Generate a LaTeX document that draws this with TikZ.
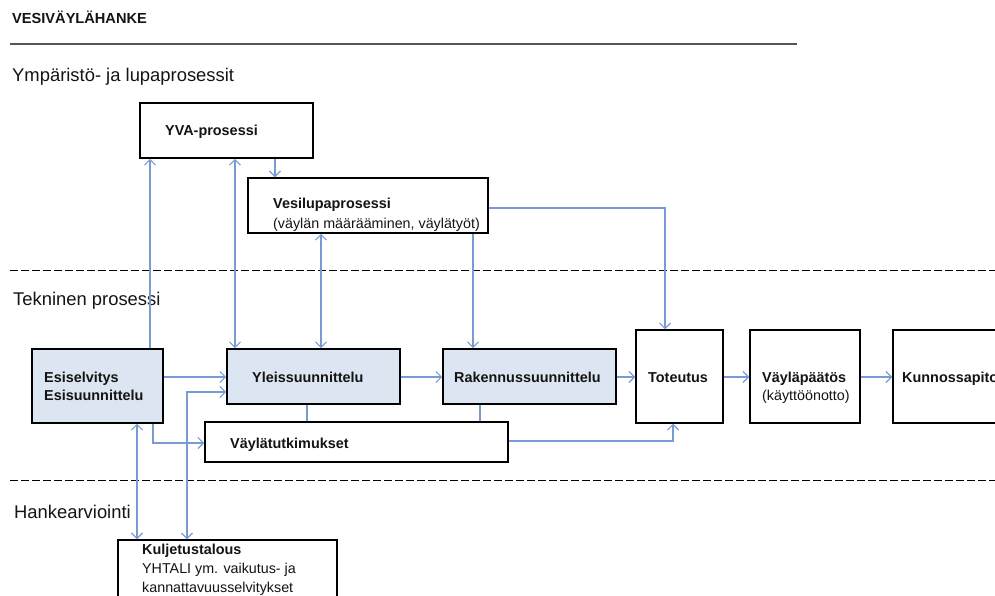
\documentclass[tikz,border=0pt]{standalone}
\usepackage{fontspec}
\setmainfont{Liberation Sans}
\usetikzlibrary{arrows.meta,fit}
\definecolor{conncol}{RGB}{122,155,210}
\definecolor{boxfill}{RGB}{220,230,242}
\definecolor{txtcol}{RGB}{20,20,20}
\tikzset{
  boxw/.style={draw=black,line width=1.5pt,fill=white,inner sep=0pt},
  boxb/.style={draw=black,line width=1.8pt,fill=boxfill,inner sep=0pt},
  conn/.style={draw=conncol,line width=1.1pt},
  tip/.tip={Straight Barb[length=5.5pt,width=11pt,line width=1.1pt]},
  btxt/.style={anchor=base west,inner sep=0pt,text=txtcol,font=\fontsize{14.4}{17}\selectfont\bfseries},
  rtxt/.style={anchor=base west,inner sep=0pt,text=txtcol,font=\fontsize{14.3}{17}\selectfont},
  sectxt/.style={anchor=base west,inner sep=0pt,text=txtcol,font=\fontsize{18.4}{21}\selectfont},
  sepline/.style={draw=black,line width=1pt,dash pattern=on 8pt off 3pt}
}
\begin{document}
\begin{tikzpicture}[x=1pt,y=-1pt]
\useasboundingbox (0,0) rectangle (995,595);
% header
\node[anchor=base west,inner sep=0pt,text=txtcol,font=\fontsize{14.6}{17}\selectfont\bfseries] (title) at (12,23) {VESIVÄYLÄHANKE};
\coordinate (hl1) at (10,44);
\coordinate (hl2) at (797,44);
\draw[draw={rgb,255:red,85;green,85;blue,85},line width=1.5pt] (hl1) -- (hl2);
% section labels
\node[sectxt] (s1) at (12,81) {Ympäristö- ja lupaprosessit};
\node[sectxt] (s2) at (13,305) {Tekninen prosessi};
\node[sectxt] (s3) at (14,518) {Hankearviointi};
% dashed separators
\coordinate (d1a) at (10,270); \coordinate (d1b) at (995,270);
\coordinate (d2a) at (10,480); \coordinate (d2b) at (995,480);
\draw[sepline] (d1a) -- (d1b);
\draw[sepline] (d2a) -- (d2b);
% corner coordinates
\coordinate (yvaA) at (140,103); \coordinate (yvaB) at (313,158);
\coordinate (vesiA) at (248,178); \coordinate (vesiB) at (488,233);
\coordinate (esisA) at (32,349); \coordinate (esisB) at (163,423);
\coordinate (yleisA) at (227,349); \coordinate (yleisB) at (400,404);
\coordinate (rakA) at (443,349); \coordinate (rakB) at (616,404);
\coordinate (totA) at (636,330); \coordinate (totB) at (723,423);
\coordinate (vpA) at (750,330); \coordinate (vpB) at (860,423);
\coordinate (kpA) at (893,330); \coordinate (kpB) at (1012,423);
\coordinate (vtA) at (205,422); \coordinate (vtB) at (508,462);
\coordinate (kuljA) at (118,540); \coordinate (kuljB) at (337,612);
% boxes
\node[boxw,fit=(yvaA)(yvaB)] (yva) {};
\node[boxw,fit=(vesiA)(vesiB)] (vesi) {};
\node[boxb,fit=(esisA)(esisB)] (esis) {};
\node[boxb,fit=(yleisA)(yleisB)] (yleis) {};
\node[boxb,fit=(rakA)(rakB)] (rak) {};
\node[boxw,fit=(totA)(totB)] (tot) {};
\node[boxw,fit=(vpA)(vpB)] (vp) {};
\node[boxw,fit=(kpA)(kpB)] (kp) {};
\node[boxw,fit=(vtA)(vtB)] (vt) {};
\node[boxw,fit=(kuljA)(kuljB)] (kulj) {};
% texts
\node[btxt] (tyva) at (165,135) {YVA-prosessi};
\node[btxt] (tvesi1) at (273,208) {Vesilupaprosessi};
\node[rtxt] (tvesi2) at (273,228) {(väylän määrääminen, väylätyöt)};
\node[btxt] (tesis1) at (44,382) {Esiselvitys};
\node[btxt] (tesis2) at (44,400) {Esisuunnittelu};
\node[btxt] (tyleis) at (252,382) {Yleissuunnittelu};
\node[btxt] (trak) at (454,382) {Rakennussuunnittelu};
\node[btxt] (ttot) at (648,382) {Toteutus};
\node[btxt] (tvp1) at (762,382) {Väyläpäätös};
\node[rtxt] (tvp2) at (762,400) {(käyttöönotto)};
\node[btxt] (tkp) at (902,382) {Kunnossapito};
\node[btxt] (tvt) at (230,448) {Väylätutkimukset};
\node[btxt] (tk1) at (142,554) {Kuljetustalous};
\node[rtxt] (tk2) at (142,573) {YHTALI ym. vaikutus- ja};
\node[rtxt] (tk3) at (142,592) {kannattavuusselvitykset};
% helper coordinates
\coordinate (c137) at (137,0);
\coordinate (c150) at (150,0);
\coordinate (c153) at (153,0);
\coordinate (c187) at (187,0);
\coordinate (c235) at (235,0);
\coordinate (c275) at (275,0);
\coordinate (c307) at (307,0);
\coordinate (c321) at (321,0);
\coordinate (c473) at (473,0);
\coordinate (c480) at (480,0);
\coordinate (c665) at (665,0);
\coordinate (c673) at (673,0);
\coordinate (r208) at (0,208);
\coordinate (r377) at (0,377);
\coordinate (r392) at (0,392);
\coordinate (r441) at (0,441);
\coordinate (r443) at (0,443);
% connectors
\draw[conn,-tip] (esis.north -| c150) -- (yva.south -| c150);
\draw[conn,tip-tip] (yva.south -| c235) -- (yleis.north -| c235);
\draw[conn,-tip] (yva.south -| c275) -- (vesi.north -| c275);
\draw[conn,tip-tip] (vesi.south -| c321) -- (yleis.north -| c321);
\draw[conn,-tip] (vesi.south -| c473) -- (rak.north -| c473);
\draw[conn,-tip] (vesi.east |- r208) -| (tot.north -| c665);
\draw[conn,-tip] (esis.east |- r377) -- (yleis.west |- r377);
\draw[conn,tip-tip] (kulj.north -| c187) |- (yleis.west |- r392);
\draw[conn,-tip] (yleis.east |- r377) -- (rak.west |- r377);
\draw[conn,-tip] (rak.east |- r377) -- (tot.west |- r377);
\draw[conn,-tip] (tot.east |- r377) -- (vp.west |- r377);
\draw[conn,-tip] (vp.east |- r377) -- (kp.west |- r377);
\draw[conn] (yleis.south -| c307) -- (vt.north -| c307);
\draw[conn] (rak.south -| c480) -- (vt.north -| c480);
\draw[conn,-tip] (esis.south -| c153) |- (vt.west |- r443);
\draw[conn,-tip] (vt.east |- r441) -| (tot.south -| c673);
\draw[conn,tip-tip] (esis.south -| c137) -- (kulj.north -| c137);
\end{tikzpicture}
\end{document}
